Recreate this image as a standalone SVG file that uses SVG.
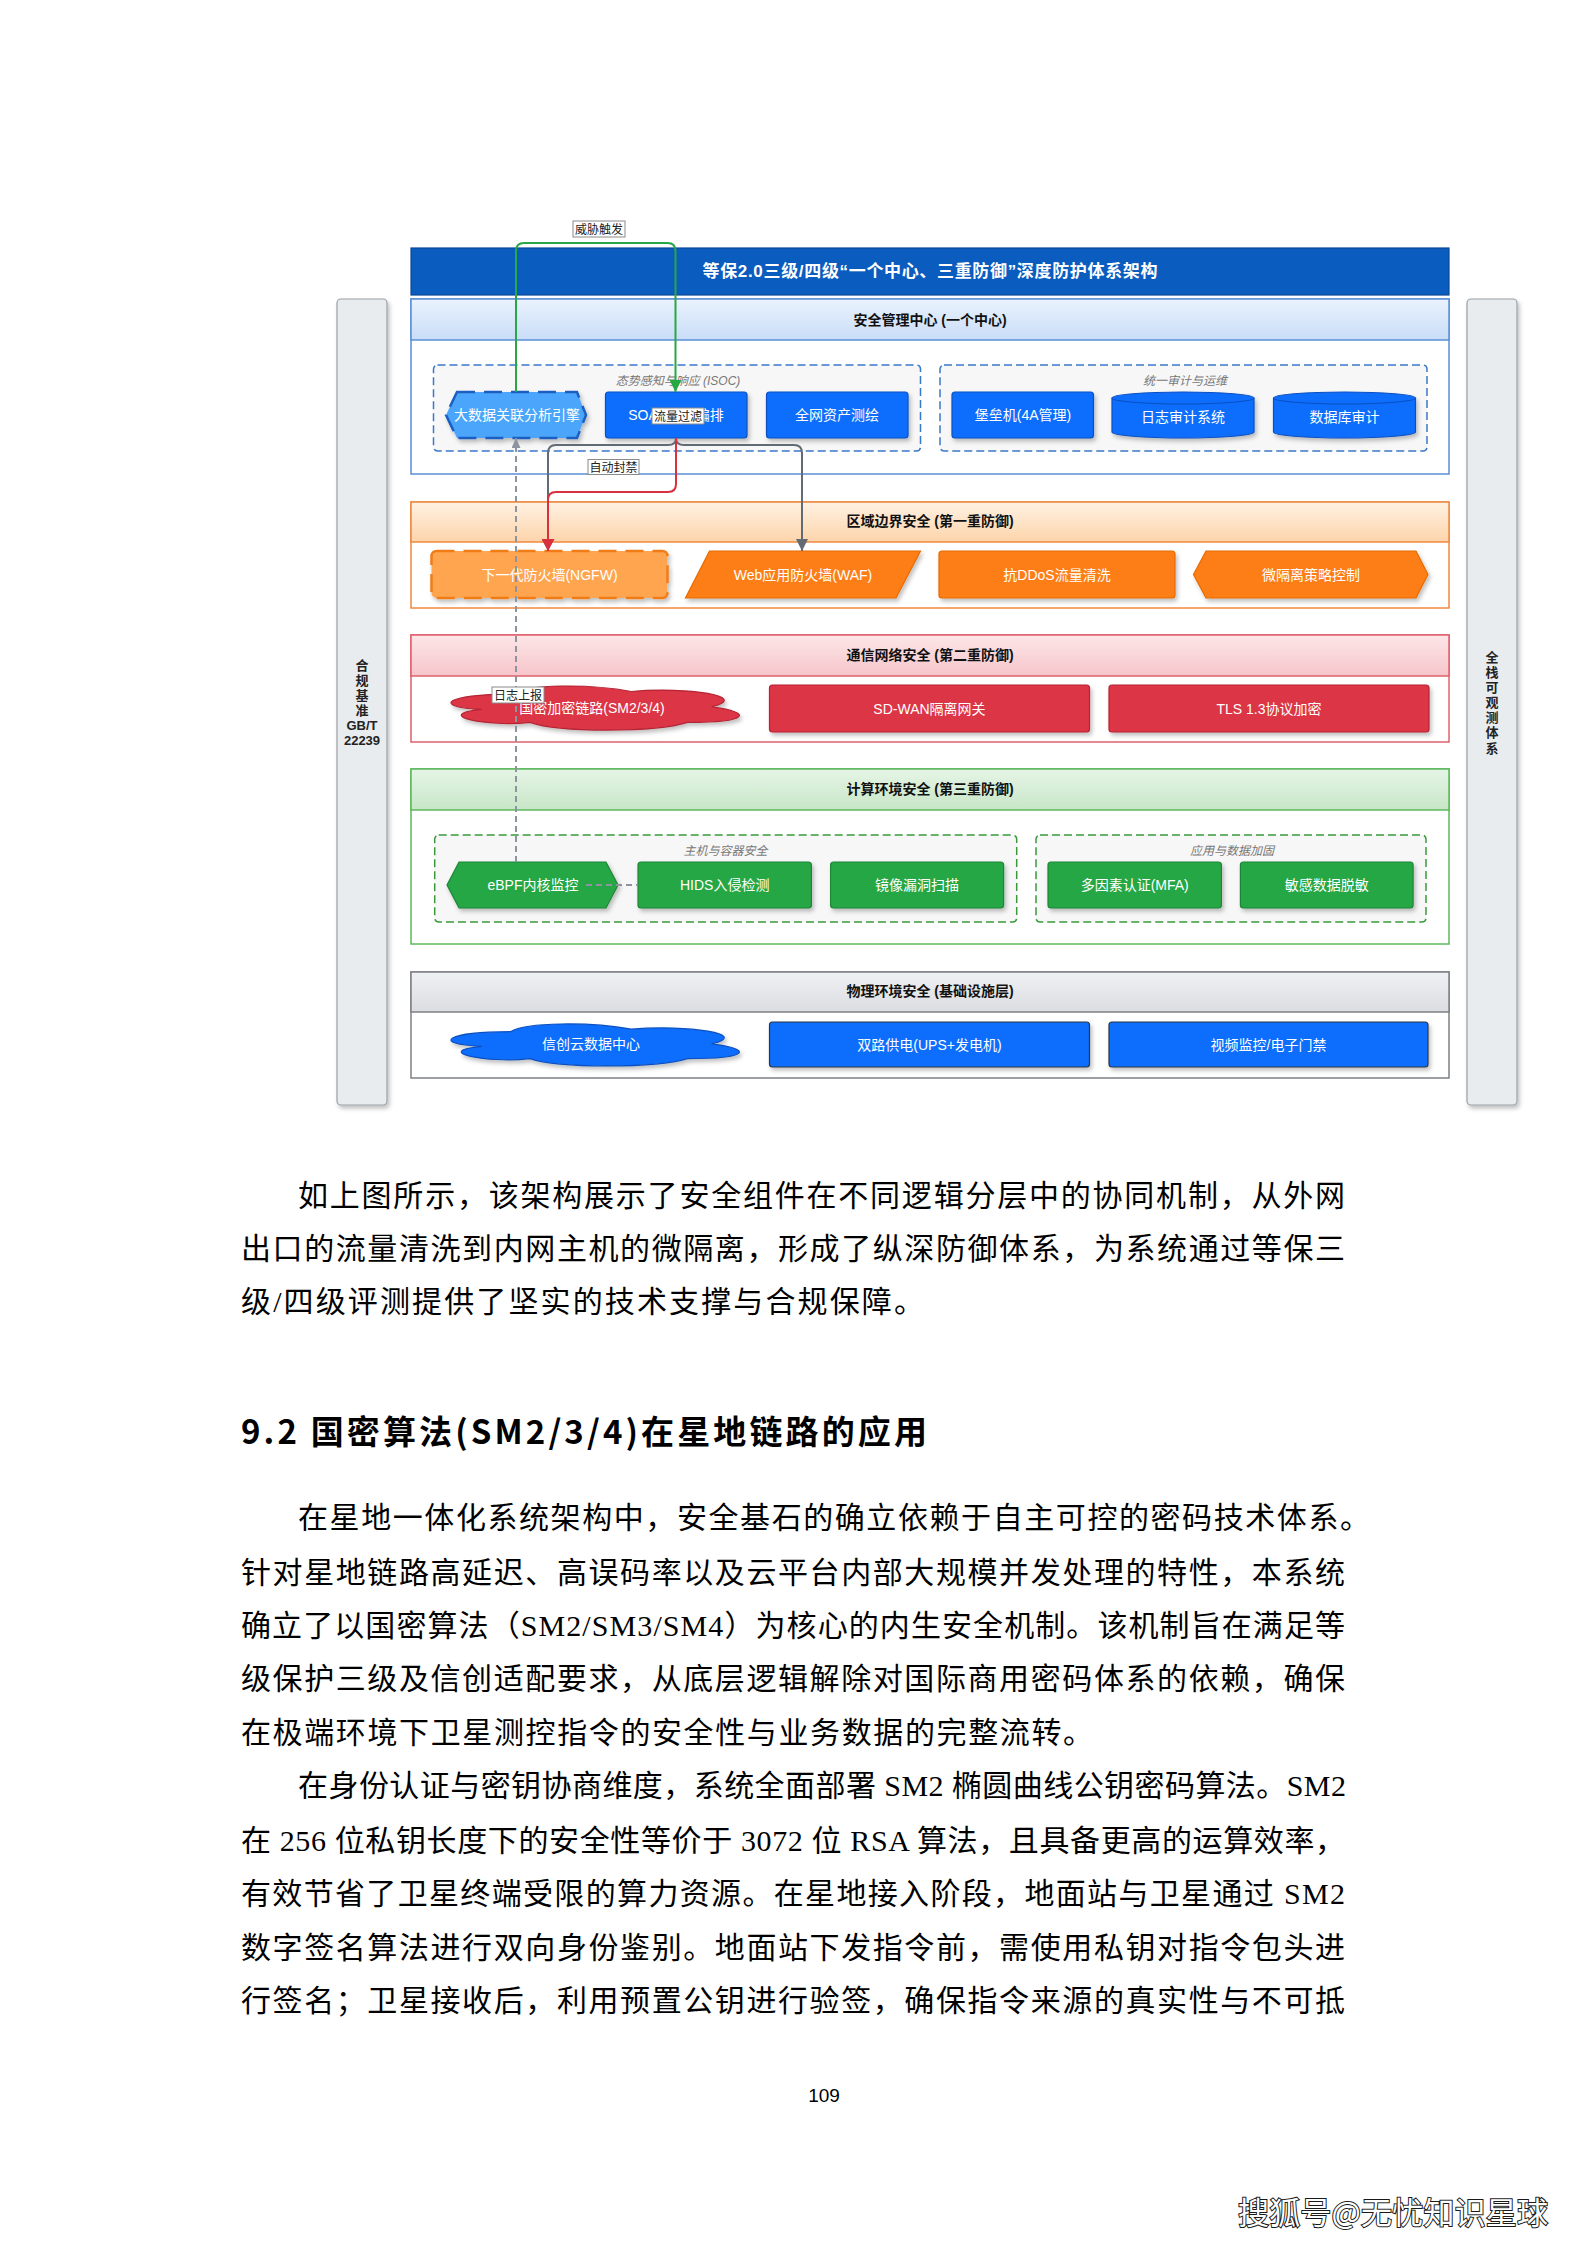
<svg xmlns="http://www.w3.org/2000/svg" width="1587" height="2245" viewBox="0 0 1587 2245">
<defs>
<style>
.nt{font-family:"Liberation Sans","Noto Sans CJK SC",sans-serif;font-size:14px;fill:#fff;text-anchor:middle}
.ht{font-family:"Liberation Sans","Noto Sans CJK SC",sans-serif;font-size:14px;font-weight:bold;fill:#111;text-anchor:middle}
.gl{font-family:"Liberation Sans","Noto Sans CJK SC",sans-serif;font-size:12px;font-style:italic;fill:#777;text-anchor:middle}
.el{font-family:"Liberation Sans","Noto Sans CJK SC",sans-serif;font-size:12px;fill:#222;text-anchor:middle}
.lb{fill:#fff;stroke:#8a8a8a;stroke-width:1}
.sd{font-family:"Liberation Sans","Noto Sans CJK SC",sans-serif;font-size:13px;font-weight:bold;fill:#222;text-anchor:middle}
.body{font-family:"Liberation Serif","Noto Sans CJK SC",serif;font-size:30px;fill:#000}
.blue{fill:#0d6efd;stroke:#0a50c0;stroke-width:1.2}
.orange{fill:#fd7e14;stroke:#e56a00;stroke-width:1.2}
.red{fill:#dc3545;stroke:#b52535;stroke-width:1.2}
.green{fill:#28a745;stroke:#1d8636;stroke-width:1.2}
.grp{stroke-width:1.5;stroke-dasharray:8 4;fill:#f7f7f8}
.conn{fill:none;stroke-width:2;stroke-linejoin:round}
</style>
<filter id="sh" x="-10%" y="-20%" width="125%" height="150%">
<feDropShadow dx="2" dy="3" stdDeviation="2" flood-color="#000" flood-opacity="0.25"/>
</filter>
<linearGradient id="gB" x1="0" y1="0" x2="0" y2="1"><stop offset="0" stop-color="#eaf2fd"/><stop offset="1" stop-color="#c9ddf8"/></linearGradient>
<linearGradient id="gO" x1="0" y1="0" x2="0" y2="1"><stop offset="0" stop-color="#fff2e3"/><stop offset="1" stop-color="#fdd4aa"/></linearGradient>
<linearGradient id="gR" x1="0" y1="0" x2="0" y2="1"><stop offset="0" stop-color="#fde6e8"/><stop offset="1" stop-color="#f6c5ca"/></linearGradient>
<linearGradient id="gG" x1="0" y1="0" x2="0" y2="1"><stop offset="0" stop-color="#e6f5e6"/><stop offset="1" stop-color="#c7e6c7"/></linearGradient>
<linearGradient id="gS" x1="0" y1="0" x2="0" y2="1"><stop offset="0" stop-color="#f0f1f3"/><stop offset="1" stop-color="#dadde1"/></linearGradient>
<marker id="aG" viewBox="0 0 12 12" refX="12" refY="6" markerWidth="12" markerHeight="12" markerUnits="userSpaceOnUse" orient="auto"><path d="M0,0 L12,6 L0,12 Z" fill="#28a745"/></marker>
<marker id="aR" viewBox="0 0 12 13" refX="12" refY="6.5" markerWidth="12" markerHeight="13" markerUnits="userSpaceOnUse" orient="auto"><path d="M0,0 L12,6.5 L0,13 Z" fill="#d9303e"/></marker>
<marker id="aK" viewBox="0 0 12 12" refX="12" refY="6" markerWidth="12" markerHeight="12" markerUnits="userSpaceOnUse" orient="auto"><path d="M0,0 L12,6 L0,12 Z" fill="#626a75"/></marker>
<marker id="aL" viewBox="0 0 10 9" refX="10" refY="4.5" markerWidth="10" markerHeight="9" markerUnits="userSpaceOnUse" orient="auto"><path d="M0,0 L10,4.5 L0,9 Z" fill="#8d949e"/></marker>
</defs>
<rect x="0" y="0" width="1587" height="2245" fill="#fff"/>

<!-- side bars -->
<g id="side-left">
<rect x="337" y="299" width="50" height="806" rx="4" fill="#e9ecef" stroke="#9aa0a6" stroke-width="1.2" filter="url(#sh)"/>
<text class="sd" x="362" y="670">合</text>
<text class="sd" x="362" y="685">规</text>
<text class="sd" x="362" y="700">基</text>
<text class="sd" x="362" y="715">准</text>
<text class="sd" x="362" y="730">GB/T</text>
<text class="sd" x="362" y="745">22239</text>
</g>
<g id="side-right">
<rect x="1467" y="299" width="50" height="806" rx="4" fill="#e9ecef" stroke="#9aa0a6" stroke-width="1.2" filter="url(#sh)"/>
<text class="sd" x="1492" y="662" font-size="12">全</text>
<text class="sd" x="1492" y="677" font-size="12">栈</text>
<text class="sd" x="1492" y="692" font-size="12">可</text>
<text class="sd" x="1492" y="707" font-size="12">观</text>
<text class="sd" x="1492" y="722" font-size="12">测</text>
<text class="sd" x="1492" y="737" font-size="12">体</text>
<text class="sd" x="1492" y="753" font-size="12">系</text>
</g>

<!-- title -->
<g id="title">
<rect x="411" y="248" width="1038" height="47" fill="#0a5cbe" stroke="#0a4796" stroke-width="1.2"/>
<text x="930" y="277" font-family="Liberation Sans,Noto Sans CJK SC,sans-serif" font-size="17" font-weight="bold" fill="#fff" text-anchor="middle" textLength="455">等保2.0三级/四级“一个中心、三重防御”深度防护体系架构</text>
</g>

<!-- security management center -->
<g id="layer-smc">
<rect x="411" y="299" width="1038" height="175" fill="#fff" stroke="#5b8fd6" stroke-width="1.5"/>
<rect x="411" y="299" width="1038" height="41" fill="url(#gB)" stroke="#5b8fd6" stroke-width="1.5"/>
<text class="ht" x="930" y="325">安全管理中心 (一个中心)</text>
</g>
<g id="grp-isoc">
<rect class="grp" x="433.5" y="365" width="487" height="86" rx="4" stroke="#3a78c8"/>
<text class="gl" x="678" y="385">态势感知与响应 (ISOC)</text>
</g>
<g id="grp-audit">
<rect class="grp" x="940" y="365" width="487" height="86" rx="4" stroke="#3a78c8"/>
<text class="gl" x="1185" y="385">统一审计与运维</text>
</g>
<g id="n-bigdata">
<polygon points="457,392 577,392 586,415 577,438 457,438 446,415" fill="#4ba6fb" stroke="#1b5fc1" stroke-width="2.5" stroke-dasharray="18 9" filter="url(#sh)"/>
<text class="nt" x="517" y="420">大数据关联分析引擎</text>
</g>
<g id="n-soar">
<rect class="blue" x="605.5" y="392" width="141.5" height="46" rx="3" filter="url(#sh)"/>
<text class="nt" x="676" y="420">SOAR自动编排</text>
</g>
<g id="n-asset">
<rect class="blue" x="766.5" y="392" width="141.5" height="46" rx="3" filter="url(#sh)"/>
<text class="nt" x="837" y="420">全网资产测绘</text>
</g>
<g id="n-bastion">
<rect class="blue" x="952" y="392" width="141.5" height="46" rx="3" filter="url(#sh)"/>
<text class="nt" x="1023" y="420">堡垒机(4A管理)</text>
</g>
<g id="n-logaudit">
<path class="blue" d="M1112,398 A71,6 0 0 1 1254,398 L1254,432 A71,6 0 0 1 1112,432 Z" filter="url(#sh)"/>
<path d="M1112,398 A71,6 0 0 0 1254,398" fill="none" stroke="#0a50c0" stroke-width="1.2"/>
<text class="nt" x="1183" y="422">日志审计系统</text>
</g>
<g id="n-dbaudit">
<path class="blue" d="M1273.5,398 A71,6 0 0 1 1415.5,398 L1415.5,432 A71,6 0 0 1 1273.5,432 Z" filter="url(#sh)"/>
<path d="M1273.5,398 A71,6 0 0 0 1415.5,398" fill="none" stroke="#0a50c0" stroke-width="1.2"/>
<text class="nt" x="1344.5" y="422">数据库审计</text>
</g>

<!-- boundary layer -->
<g id="layer-boundary">
<rect x="411" y="502" width="1038" height="106" fill="#fff" stroke="#f0883e" stroke-width="1.5"/>
<rect x="411" y="502" width="1038" height="40" fill="url(#gO)" stroke="#f0883e" stroke-width="1.5"/>
<text class="ht" x="930" y="526">区域边界安全 (第一重防御)</text>
</g>
<g id="n-ngfw">
<rect x="431.5" y="551" width="236" height="47" rx="5" fill="#ffa54f" stroke="#f07c18" stroke-width="2.5" stroke-dasharray="18 9" filter="url(#sh)"/>
<text class="nt" x="549.5" y="579.5">下一代防火墙(NGFW)</text>
</g>
<g id="n-waf">
<polygon class="orange" points="709.5,551 920.5,551 896,598 685.5,598" filter="url(#sh)"/>
<text class="nt" x="803" y="579.5">Web应用防火墙(WAF)</text>
</g>
<g id="n-ddos">
<rect class="orange" x="939" y="551" width="236" height="47" rx="3" filter="url(#sh)"/>
<text class="nt" x="1057" y="579.5">抗DDoS流量清洗</text>
</g>
<g id="n-microseg">
<polygon class="orange" points="1206,551 1416,551 1428,574.5 1416,598 1206,598 1193.5,574.5" filter="url(#sh)"/>
<text class="nt" x="1311" y="579.5">微隔离策略控制</text>
</g>

<!-- network layer -->
<g id="layer-network">
<rect x="411" y="635" width="1038" height="107" fill="#fff" stroke="#e0606c" stroke-width="1.5"/>
<rect x="411" y="635" width="1038" height="41" fill="url(#gR)" stroke="#e0606c" stroke-width="1.5"/>
<text class="ht" x="930" y="660">通信网络安全 (第二重防御)</text>
</g>
<g id="n-sm-link">
<path class="red" d="M510.55,694.05 C446.19,694.05 430.1,706.9 481.59,709.47 C430.1,715.12 488.02,727.46 529.86,722.32 C558.82,732.6 655.36,732.6 687.54,722.32 C751.9,722.32 751.9,712.04 711.68,706.9 C751.9,696.62 687.54,686.34 631.23,691.48 C591,683.77 526.64,683.77 510.55,694.05 Z" filter="url(#sh)"/>
<text class="nt" x="592" y="713">国密加密链路(SM2/3/4)</text>
</g>
<g id="n-sdwan">
<rect class="red" x="769.5" y="685" width="320" height="47" rx="3" filter="url(#sh)"/>
<text class="nt" x="929.5" y="713.5">SD-WAN隔离网关</text>
</g>
<g id="n-tls">
<rect class="red" x="1109" y="685" width="320" height="47" rx="3" filter="url(#sh)"/>
<text class="nt" x="1269" y="713.5">TLS 1.3协议加密</text>
</g>

<!-- compute layer -->
<g id="layer-compute">
<rect x="411" y="769" width="1038" height="175" fill="#fff" stroke="#5cb85c" stroke-width="1.5"/>
<rect x="411" y="769" width="1038" height="41" fill="url(#gG)" stroke="#5cb85c" stroke-width="1.5"/>
<text class="ht" x="930" y="794">计算环境安全 (第三重防御)</text>
</g>
<g id="grp-host">
<rect class="grp" x="434.7" y="835" width="582" height="87" rx="4" stroke="#3a9a3a"/>
<text class="gl" x="725.5" y="855">主机与容器安全</text>
</g>
<g id="grp-app">
<rect class="grp" x="1036" y="835" width="390" height="87" rx="4" stroke="#3a9a3a"/>
<text class="gl" x="1232" y="855">应用与数据加固</text>
</g>
<g id="n-ebpf">
<polygon class="green" points="459,862 606,862 618,885 606,908 459,908 447,885" filter="url(#sh)"/>
<text class="nt" x="533" y="890">eBPF内核监控</text>
</g>
<g id="n-hids">
<rect class="green" x="638" y="862" width="173.4" height="46" rx="3" filter="url(#sh)"/>
<text class="nt" x="724.7" y="890">HIDS入侵检测</text>
</g>
<g id="n-imgscan">
<rect class="green" x="830.6" y="862" width="173" height="46" rx="3" filter="url(#sh)"/>
<text class="nt" x="917" y="890">镜像漏洞扫描</text>
</g>
<g id="n-mfa">
<rect class="green" x="1048" y="862" width="173.4" height="46" rx="3" filter="url(#sh)"/>
<text class="nt" x="1134.7" y="890">多因素认证(MFA)</text>
</g>
<g id="n-mask">
<rect class="green" x="1240.4" y="862" width="172.7" height="46" rx="3" filter="url(#sh)"/>
<text class="nt" x="1326.8" y="890">敏感数据脱敏</text>
</g>

<!-- physical layer -->
<g id="layer-physical">
<rect x="411" y="972" width="1038" height="106" fill="#fff" stroke="#7d8085" stroke-width="1.5"/>
<rect x="411" y="972" width="1038" height="40" fill="url(#gS)" stroke="#7d8085" stroke-width="1.5"/>
<text class="ht" x="930" y="996">物理环境安全 (基础设施层)</text>
</g>
<g id="n-xc-dc">
<path class="blue" d="M510.55,1031.65 C446.19,1031.65 430.1,1043.9 481.59,1046.35 C430.1,1051.74 488.02,1063.5 529.86,1058.6 C558.82,1068.4 655.36,1068.4 687.54,1058.6 C751.9,1058.6 751.9,1048.8 711.68,1043.9 C751.9,1034.1 687.54,1024.3 631.23,1029.2 C591,1021.85 526.64,1021.85 510.55,1031.65 Z" filter="url(#sh)"/>
<text class="nt" x="591" y="1049">信创云数据中心</text>
</g>
<g id="n-power">
<rect x="769.5" y="1022" width="320" height="45" rx="3" fill="#0d6efd" stroke="#2f3642" stroke-width="1.2" filter="url(#sh)"/>
<text class="nt" x="929.5" y="1049.5">双路供电(UPS+发电机)</text>
</g>
<g id="n-cctv">
<rect x="1109" y="1022" width="319" height="45" rx="3" fill="#0d6efd" stroke="#2f3642" stroke-width="1.2" filter="url(#sh)"/>
<text class="nt" x="1268.5" y="1049.5">视频监控/电子门禁</text>
</g>

<!-- connectors -->
<g id="connectors">
<path class="conn" d="M516,392 L516,251 Q516,243 524,243 L667.5,243 Q675.5,243 675.5,251 L675.5,392" stroke="#28a745" stroke-width="2.5" marker-end="url(#aG)"/>
<path class="conn" d="M676,438 Q676,445 668,445 L556,445 Q548,445 548,453 L548,551" stroke="#626a75" marker-end="url(#aK)"/>
<path class="conn" d="M676,438 Q676,445 684,445 L794,445 Q802,445 802,453 L802,551" stroke="#626a75" marker-end="url(#aK)"/>
<path class="conn" d="M676,438 L676,484 Q676,492 668,492 L556,492 Q548,492 548,500 L548,551" stroke="#d9303e" marker-end="url(#aR)"/>
<path class="conn" d="M516,862 L516,438" stroke="#8d949e" stroke-width="1.5" stroke-dasharray="6 4" marker-end="url(#aL)"/>
<path class="conn" d="M586,885 L638,885" stroke="#8d949e" stroke-width="1.5" stroke-dasharray="6 4"/>
<g id="edge-labels">
<rect class="lb" x="573" y="221" width="52" height="16"/>
<text class="el" x="599" y="233.5">威胁触发</text>
<rect class="lb" x="652" y="408" width="52" height="16"/>
<text class="el" x="678" y="420.5">流量过滤</text>
<rect class="lb" x="588" y="459.5" width="51" height="15"/>
<text class="el" x="613.5" y="471.5">自动封禁</text>
<rect class="lb" x="492" y="687" width="52" height="16"/>
<text class="el" x="518" y="699.5">日志上报</text>
</g>
</g>

<!-- body text -->
<g id="text-body">
<text class="body" x="298" y="1206" textLength="1047">如上图所示，该架构展示了安全组件在不同逻辑分层中的协同机制，从外网</text>
<text class="body" x="241" y="1259" textLength="1104">出口的流量清洗到内网主机的微隔离，形成了纵深防御体系，为系统通过等保三</text>
<text class="body" x="241" y="1312" textLength="683">级/四级评测提供了坚实的技术支撑与合规保障。</text>
<text x="241" y="1444" font-family="Noto Sans CJK SC,sans-serif" font-size="33" font-weight="bold" fill="#000" textLength="686">9.2 国密算法(SM2/3/4)在星地链路的应用</text>
<text class="body" x="298" y="1528" textLength="1072">在星地一体化系统架构中，安全基石的确立依赖于自主可控的密码技术体系。</text>
<text class="body" x="241" y="1582.5" textLength="1104">针对星地链路高延迟、高误码率以及云平台内部大规模并发处理的特性，本系统</text>
<text class="body" x="241" y="1636" textLength="1104">确立了以国密算法（SM2/SM3/SM4）为核心的内生安全机制。该机制旨在满足等</text>
<text class="body" x="241" y="1689" textLength="1104">级保护三级及信创适配要求，从底层逻辑解除对国际商用密码体系的依赖，确保</text>
<text class="body" x="241" y="1743" textLength="852">在极端环境下卫星测控指令的安全性与业务数据的完整流转。</text>
<text class="body" x="298" y="1796" textLength="1048">在身份认证与密钥协商维度，系统全面部署 SM2 椭圆曲线公钥密码算法。SM2</text>
<text class="body" x="241" y="1850.5" textLength="1104">在 256 位私钥长度下的安全性等价于 3072 位 RSA 算法，且具备更高的运算效率，</text>
<text class="body" x="241" y="1903.5" textLength="1104">有效节省了卫星终端受限的算力资源。在星地接入阶段，地面站与卫星通过 SM2</text>
<text class="body" x="241" y="1958" textLength="1104">数字签名算法进行双向身份鉴别。地面站下发指令前，需使用私钥对指令包头进</text>
<text class="body" x="241" y="2011" textLength="1104">行签名；卫星接收后，利用预置公钥进行验签，确保指令来源的真实性与不可抵</text>
<text x="824" y="2102" font-family="Liberation Sans,sans-serif" font-size="19" fill="#000" text-anchor="middle">109</text>
<text x="1238" y="2224" font-family="Noto Sans CJK SC,sans-serif" font-size="31" fill="#fff" stroke="#1a1a1a" stroke-width="2" paint-order="stroke" textLength="310">搜狐号@无忧知识星球</text>
</g>
</svg>
